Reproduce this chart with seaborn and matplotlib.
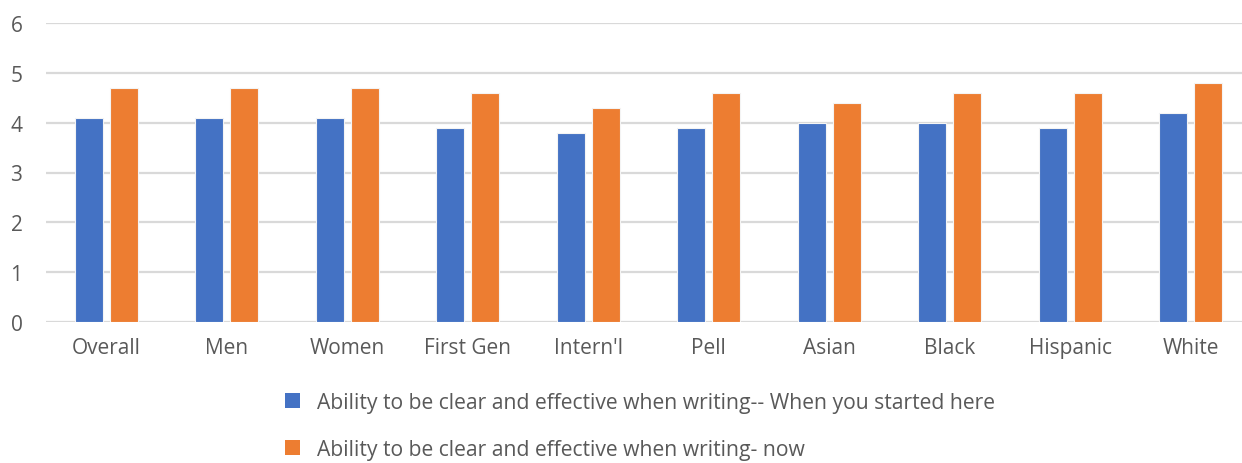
import matplotlib
matplotlib.use("Agg")
import matplotlib.pyplot as plt
import seaborn as sns
import pandas as pd
from matplotlib.patches import Patch

# Survey groups and mean self-ratings
groups = ["Overall", "Men", "Women", "First Gen", "Intern'l",
          "Pell", "Asian", "Black", "Hispanic", "White"]
started_here = [4.1, 4.1, 4.1, 3.9, 3.8, 3.9, 4.0, 4.0, 3.9, 4.2]
now = [4.7, 4.7, 4.7, 4.6, 4.3, 4.6, 4.4, 4.6, 4.6, 4.8]
series_names = [
    "Ability to be clear and effective when writing-- When you started here",
    "Ability to be clear and effective when writing- now",
]
y_ticks = [0, 1, 2, 3, 4, 5, 6]

colors = ["#4472C4", "#ED7D31"]
text_color = "#595959"

df = pd.DataFrame({
    "group": groups * 2,
    "value": started_here + now,
    "series": [series_names[0]] * len(groups) + [series_names[1]] * len(groups),
})

sns.set_theme(style="white")
plt.rcParams["font.family"] = ["Open Sans", "DejaVu Sans"]

W, H = 1242, 464
fig = plt.figure(figsize=(W / 100, H / 100), dpi=100)
ax = fig.add_axes([46 / W, 141 / H, 1205 / W, 299 / H])

sns.barplot(data=df, x="group", y="value", hue="series", order=groups,
            hue_order=series_names, palette=colors, saturation=1,
            width=0.58, gap=0.2, edgecolor="#f4f4f4", linewidth=0.8,
            legend=False, ax=ax, zorder=3)

ax.set_ylim(0, 6)
ax.set_xlim(-0.5, len(groups) - 0.5)
ax.set_yticks(y_ticks)
ax.yaxis.grid(True, color="#d9d9d9", linewidth=1.6, zorder=0)
ax.set_axisbelow(True)
for s in ax.spines.values():
    s.set_visible(False)
ax.set_xlabel("")
ax.set_ylabel("")
ax.tick_params(axis="both", length=0, labelsize=15, labelcolor=text_color)
ax.tick_params(axis="y", pad=17)
ax.tick_params(axis="x", pad=11)

handles = [Patch(facecolor=c, edgecolor="none") for c in colors]
fig.legend(handles, series_names, loc="upper left",
           bbox_to_anchor=(285 / W, 1 - 393 / H), frameon=False,
           ncol=1, handlelength=0.7, handleheight=0.7, handletextpad=0.8,
           labelspacing=1.22, borderpad=0, borderaxespad=0,
           prop={"size": 15.2}, labelcolor=text_color)

fig.savefig("out.png", dpi=100)
